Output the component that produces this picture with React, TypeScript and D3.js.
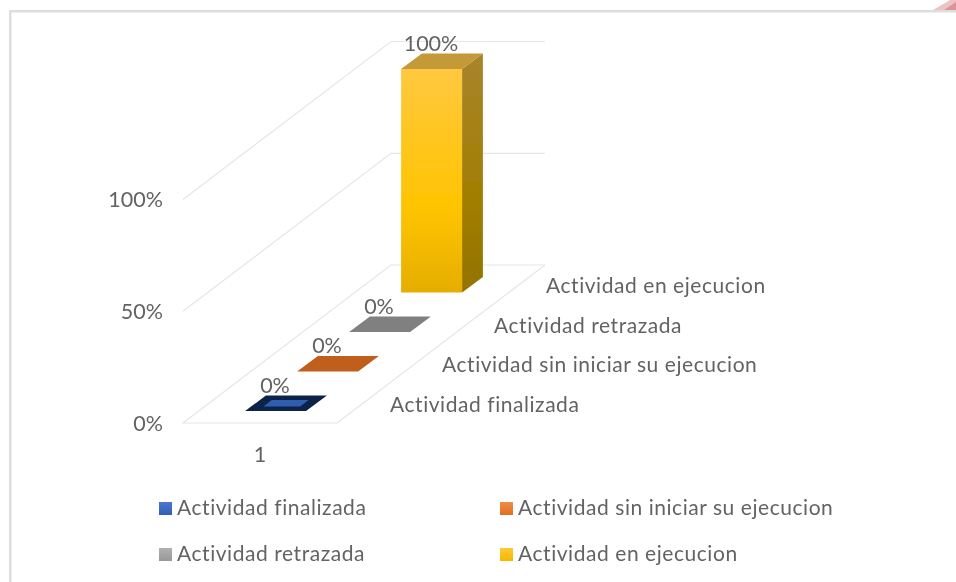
import React from "react";
import * as d3 from "d3";

const seriesNames = ["Actividad finalizada", "Actividad sin iniciar su ejecucion", "Actividad retrazada", "Actividad en ejecucion"];
const seriesValues = [0, 0, 0, 1];
const categoryLabels = ["1"];
const valueTicks = [0, 0.5, 1];
const topColors = ["#0F2248", "#C05E1F", "#808080", "#C49A38"];
const legendColors = ["url(#lgBlue)", "url(#lgOrange)", "url(#lgGray)", "url(#lgYellow)"];
const legendRows = [[0, 1], [2, 3]];

const depth = d3.scaleBand<string>().domain(seriesNames).range([0, 1]).paddingInner(0.6).paddingOuter(0.3);
const across = d3.scaleBand<string>().domain(categoryLabels).range([0, 154]).padding(0.432);
const height = d3.scaleLinear().domain([0, 1]).range([0, 223.5]);

const originX = 183, originY = 423, depthDX = 208, depthDY = -158;
const P = (u: number, t: number, v: number): [number, number] => [originX + u + t * depthDX, originY + t * depthDY - height(v)];
const poly = (pts: [number, number][]) => pts.map(p => p.map(n => n.toFixed(1)).join(",")).join(" ");
const pct = d3.format(".0%");
const FONT = "Lato, Carlito, sans-serif";
const TEXT = "#636363";
const GRID = "#e6e6e6";

export default function App() {
  const W = across.range()[1];
  const u0 = across("1")!, u1 = u0 + across.bandwidth();
  return (
    <svg width={956} height={582} style={{ position: "absolute", left: 0, top: 0, display: "block", background: "#fff" }} fontFamily={FONT}>
      <defs>
        <filter id="soft"><feGaussianBlur stdDeviation="0.45" /></filter>
        <linearGradient id="front" x1="0" y1="0" x2="0" y2="1">
          <stop offset="0" stopColor="#FFC840" /><stop offset="0.62" stopColor="#FFC400" /><stop offset="1" stopColor="#E5AE06" />
        </linearGradient>
        <linearGradient id="side" x1="0" y1="0" x2="0" y2="1">
          <stop offset="0" stopColor="#A8842C" /><stop offset="0.6" stopColor="#A27E02" /><stop offset="1" stopColor="#937300" />
        </linearGradient>
        <linearGradient id="lgBlue" x1="0" y1="0" x2="0" y2="1"><stop offset="0" stopColor="#4A78CE" /><stop offset="1" stopColor="#2F5DB8" /></linearGradient>
        <linearGradient id="lgOrange" x1="0" y1="0" x2="0" y2="1"><stop offset="0" stopColor="#F08B4A" /><stop offset="1" stopColor="#E0701F" /></linearGradient>
        <linearGradient id="lgGray" x1="0" y1="0" x2="0" y2="1"><stop offset="0" stopColor="#B0B0B0" /><stop offset="1" stopColor="#989898" /></linearGradient>
        <linearGradient id="lgYellow" x1="0" y1="0" x2="0" y2="1"><stop offset="0" stopColor="#FFC933" /><stop offset="1" stopColor="#F5B800" /></linearGradient>
      </defs>
      <g filter="url(#soft)">
        {/* frame and corner */}
        <polygon points="933,10 950,0 956,0 956,10" fill="#EDC4C4" />
        <polygon points="944,10 956,2 956,10" fill="#DE9494" />
        <rect x={9} y={10} width={947} height={2.5} fill="#dedede" />
        <rect x={9} y={10} width={2.5} height={572} fill="#dedede" />

        {/* walls and floor */}
        {valueTicks.map(v => {
          const a = P(0, 0, v), b = P(0, 1, v), c = P(W, 1, v);
          return <polyline key={v} points={poly(v === 0 ? [[P(W, 0, 0)[0], a[1]], a, b, c] : [a, b, c])} fill="none" stroke={GRID} strokeWidth={1.2} />;
        })}
        <line x1={P(W, 0, 0)[0]} y1={P(W, 0, 0)[1]} x2={P(W, 1, 0)[0]} y2={P(W, 1, 0)[1]} stroke={GRID} strokeWidth={1.2} />

        {/* axis labels */}
        {valueTicks.map(v => (
          <text key={v} x={163} y={P(0, 0, v)[1]} dy="0.35em" textAnchor="end" fontSize={21.5} fill={TEXT}>{pct(v)}</text>
        ))}
        {categoryLabels.map(c => (
          <text key={c} x={P(W / 2, 0, 0)[0]} y={454} dy="0.35em" textAnchor="middle" fontSize={21.5} fill={TEXT}>{c}</text>
        ))}
        {seriesNames.map(s => {
          const t = depth(s)! + depth.bandwidth() / 2;
          const p = P(W, t, 0);
          return <text key={s} x={p[0] + 27} y={p[1] + 1} dy="0.35em" fontSize={21} fill={TEXT} letterSpacing={0.55}>{s}</text>;
        })}

        {/* bars */}
        {seriesNames.map((s, i) => {
          const t0 = depth(s)!, t1 = t0 + depth.bandwidth(), v = seriesValues[i];
          const top = [P(u0, t0, v), P(u1, t0, v), P(u1, t1, v), P(u0, t1, v)] as [number, number][];
          const cx = (top[0][0] + top[2][0]) / 2;
          const du = (u1 - u0) * 0.2, dt = (t1 - t0) * 0.3;
          return (
            <g key={s}>
              {v > 0 && (
                <>
                  <polygon points={poly([P(u0, t0, 0), P(u1, t0, 0), P(u1, t0, v), P(u0, t0, v)])} fill="url(#front)" />
                  <polygon points={poly([P(u1, t0, 0), P(u1, t1, 0), P(u1, t1, v), P(u1, t0, v)])} fill="url(#side)" />
                </>
              )}
              <polygon points={poly(top)} fill={topColors[i]} />
              {i === 0 && <polygon points={poly([P(u0 + du, t0 + dt, v), P(u1 - du, t0 + dt, v), P(u1 - du, t1 - dt, v), P(u0 + du, t1 - dt, v)])} fill="#2F5FAE" />}
              <text x={cx - 11} y={top[2][1] - 10} dy="0.35em" textAnchor="middle" fontSize={21.5} fill={TEXT}>{pct(v)}</text>
            </g>
          );
        })}

        {/* legend */}
        {legendRows.map((row, r) => row.map((si, c) => {
          const x = c === 0 ? 159 : 500, y = r === 0 ? 508 : 554;
          return (
            <g key={si}>
              <rect x={x} y={y - 6} width={13} height={13} fill={legendColors[si]} />
              <text x={x + 18} y={y} dy="0.35em" fontSize={21} fill={TEXT} letterSpacing={0.55}>{seriesNames[si]}</text>
            </g>
          );
        }))}
      </g>
    </svg>
  );
}
